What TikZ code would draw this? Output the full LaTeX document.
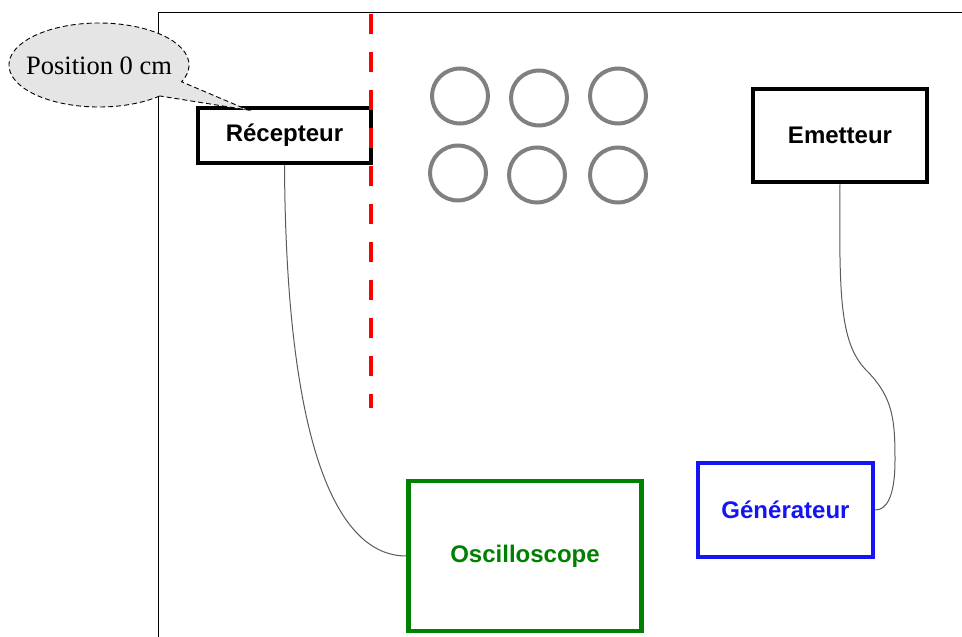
\documentclass[tikz,border=0pt]{standalone}
\usepackage{fontspec}
\setmainfont{Liberation Serif}
\setsansfont{Liberation Sans}
\definecolor{oscgreen}{RGB}{0,128,0}
\definecolor{genblue}{RGB}{20,20,245}
\definecolor{circgray}{RGB}{128,128,128}
\definecolor{wiregray}{RGB}{90,90,90}
\begin{document}
\begin{tikzpicture}[x=1pt,y=-1pt,
  devbox/.style={draw, line width=4.5pt, fill=white, inner sep=0pt, font=\sffamily\bfseries\fontsize{24}{28}\selectfont},
  wire/.style={draw=wiregray, line width=1pt},
  hole/.style={draw=circgray, line width=4pt},
]
\useasboundingbox (0,0) rectangle (962,637);
% frame
\coordinate (fbl) at (158,637);
\coordinate (ftl) at (158,12);
\coordinate (ftr) at (962,12);
\draw[line width=1pt] (fbl) -- (ftl) -- (ftr);

% devices
\node[devbox, minimum width=173pt, minimum height=55pt] (rec) at (284.5,135.5) {Récepteur};
\node[devbox, minimum width=174pt, minimum height=93pt] (em) at (840,135.5) {Emetteur};
\node[devbox, draw=oscgreen, text=oscgreen, minimum width=233pt, minimum height=150pt] (osc) at (525,556) {Oscilloscope};
\node[devbox, draw=genblue, text=genblue, minimum width=175pt, minimum height=94pt] (gen) at (785.5,510) {Générateur};

% holes
\foreach \x/\y in {460/96, 539/98, 618/96, 458/173, 537/175, 618/175}
  \draw[hole] (\x,\y) circle[x radius=28pt, y radius=27.5pt];

% red dashed line
\coordinate (rtop) at (371,14);
\coordinate (rbot) at (371,408);
\draw[red, line width=4pt, dash pattern=on 20pt off 18pt] (rtop) -- (rbot);

% wires
\draw[wire] (rec.south) .. controls (286,440) and (335,556) .. (osc.west);
\draw[wire] (em.south) .. controls (839,300) and (840,345) .. (868,372)
  .. controls (893,398) and (895,420) .. (895,460)
  .. controls (895,498) and (886,510) .. (gen.east);

% callout
\coordinate (tip) at (248,110);
\draw[line width=0.9pt, dash pattern=on 5pt off 3pt, fill=gray!20]
  plot[domain=47.5:383.5, samples=120, smooth] ({99+90*cos(\x)},{65+42*sin(\x)}) -- (tip) -- cycle;
\node[font=\fontsize{26.5}{30}\selectfont, inner sep=0pt] (pos) at (99,66) {Position 0 cm};
\end{tikzpicture}
\end{document}
